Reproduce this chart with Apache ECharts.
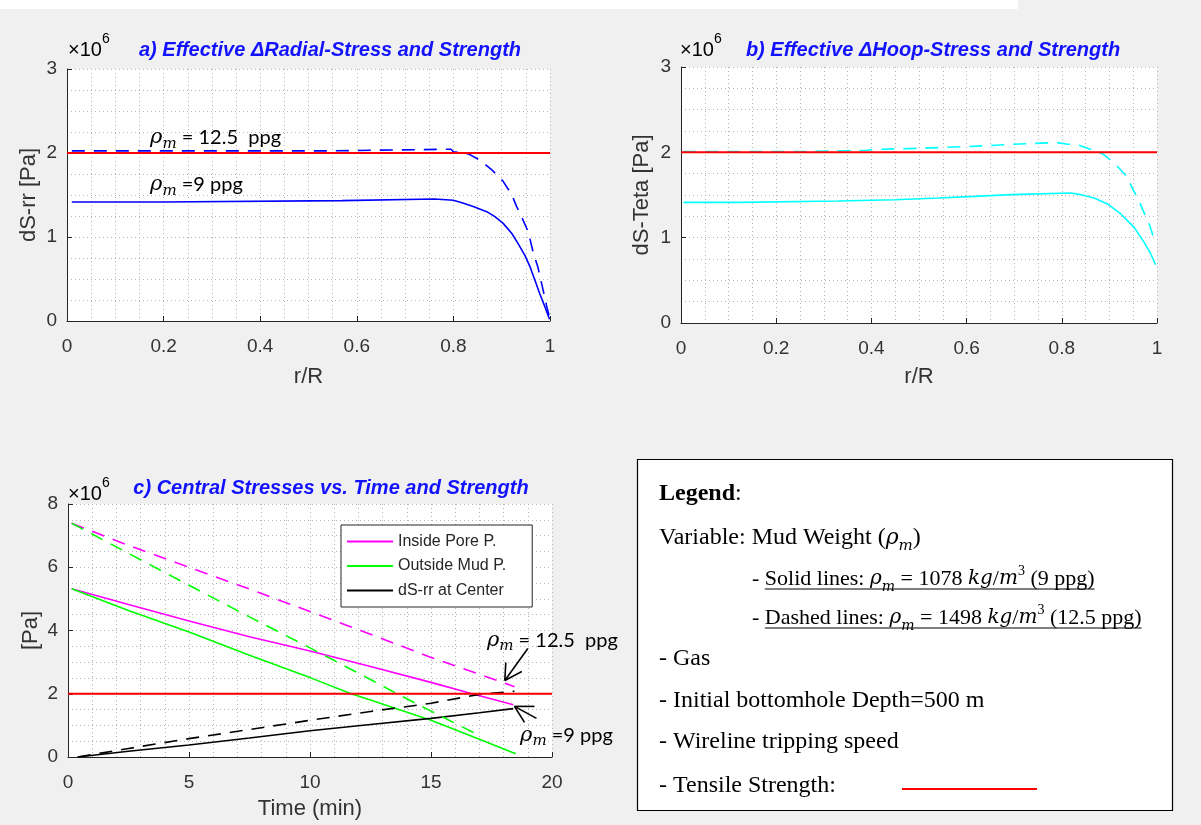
<!DOCTYPE html>
<html>
<head>
<meta charset="utf-8">
<script src="https://cdn.jsdelivr.net/npm/echarts@6/dist/echarts.min.js"></script>
<style>
  html, body { margin: 0; padding: 0; background: #f0f0f0; }
  #main { width: 1201px; height: 825px; }
</style>
</head>
<body>
<div id="main"></div>
<script>
// Stress values are in units of 1e6 Pa (axes carry the x10^6 factor).

// a) Effective radial stress vs r/R
const radial9R   = [0.01, 0.197, 0.197, 0.569, 0.569, 0.761, 0.761, 0.80, 0.821, 0.841, 0.869, 0.886, 0.903, 0.921, 0.934, 0.948, 0.959, 0.969, 0.979, 0.990, 0.999];
const radial9S   = [1.417, 1.417, 1.433, 1.433, 1.452, 1.452, 1.438, 1.438, 1.402, 1.362, 1.302, 1.242, 1.162, 1.042, 0.922, 0.781, 0.641, 0.481, 0.321, 0.160, 0.02];
const radial125R = [0.01, 0.534, 0.534, 0.795, 0.80, 0.831, 0.855, 0.879, 0.903, 0.921, 0.931, 0.941, 0.955, 0.965, 0.975, 0.986, 0.993, 1.0];
const radial125S = [2.025, 2.025, 2.045, 2.045, 2.015, 1.99, 1.915, 1.803, 1.663, 1.502, 1.362, 1.242, 1.061, 0.821, 0.641, 0.361, 0.18, 0.02];

// b) Effective hoop stress vs r/R
const hoop9R   = [0.005, 0.127, 0.127, 0.33, 0.33, 0.45, 0.45, 0.54, 0.54, 0.617, 0.617, 0.693, 0.693, 0.819, 0.840, 0.868, 0.896, 0.924, 0.952, 0.973, 0.987, 0.997];
const hoop9S   = [1.414, 1.414, 1.430, 1.430, 1.445, 1.445, 1.465, 1.465, 1.484, 1.484, 1.504, 1.504, 1.524, 1.524, 1.504, 1.465, 1.395, 1.278, 1.121, 0.945, 0.809, 0.683];
const hoop125R = [0.005, 0.26, 0.26, 0.39, 0.39, 0.41, 0.41, 0.50, 0.50, 0.56, 0.56, 0.65, 0.65, 0.71, 0.71, 0.79, 0.809, 0.834, 0.858, 0.886, 0.911, 0.935, 0.949, 0.96, 0.974, 0.985, 0.995];
const hoop125S = [2.008, 2.008, 2.024, 2.024, 2.035, 2.035, 2.047, 2.047, 2.059, 2.059, 2.079, 2.079, 2.098, 2.098, 2.114, 2.114, 2.098, 2.087, 2.04, 1.981, 1.871, 1.727, 1.571, 1.454, 1.278, 1.141, 0.96];

// c) Central stresses vs time (min)
const pore9T     = [0.15, 2.5, 5, 7.5, 10, 12.5, 15, 16.7, 18.4];
const pore9      = [5.32, 4.82, 4.30, 3.80, 3.35, 2.86, 2.36, 2.0, 1.65];
const mud9T      = [0.15, 2.5, 5, 7.5, 10, 11.7, 12.5, 15, 17, 18.5];
const mud9       = [5.32, 4.63, 3.95, 3.22, 2.51, 2.0, 1.80, 1.16, 0.56, 0.1];
const center9T   = [0.4, 2.5, 5, 7.5, 10, 12.5, 15, 17, 18.4];
const center9    = [0, 0.18, 0.38, 0.6, 0.83, 1.03, 1.22, 1.40, 1.53];
const pore125T   = [0.15, 2.5, 5, 7.5, 10, 12.5, 15, 17, 18.45];
const pore125    = [7.39, 6.69, 6.0, 5.31, 4.6, 3.88, 3.15, 2.62, 2.22];
const mud125T    = [0.15, 2.5, 5, 7.5, 10, 12.5, 13.6, 15, 17];
const mud125     = [7.39, 6.44, 5.43, 4.43, 3.45, 2.45, 2.0, 1.45, 0.68];
const center125T = [0.4, 2.5, 5, 7.5, 10, 12.5, 15, 17, 18.45];
const center125  = [0, 0.27, 0.58, 0.87, 1.16, 1.44, 1.70, 1.98, 2.08];

// Tensile strength (1e6 Pa)
const tensileStrength = 2;

const legendNames = ['Inside Pore P.', 'Outside Mud P.', 'dS-rr at Center'];

const chart = echarts.init(document.getElementById('main'), null, { renderer: 'canvas' });

const SANS = '"Liberation Sans", Arial, Helvetica, sans-serif';
const SERIF = '"Liberation Serif", "Times New Roman", serif';
const MATH = '"DejaVu Serif", serif';
const AXIS_C = '#262626';
const LABEL_C = '#333333';
const GRID_LINE = { type: [1, 3], color: '#b4b4b4', width: 1 };
const DASH = [13, 9];

const zip = (xs, ys) => xs.map((x, i) => [x, ys[i]]);
const fmt = v => String(+v.toFixed(2));

function xAxis(gridIndex, max, interval, minorN, name, nameGap) {
  return {
    gridIndex, type: 'value', min: 0, max, interval,
    name, nameLocation: 'middle', nameGap,
    nameTextStyle: { fontSize: 22, color: LABEL_C, fontFamily: SANS },
    axisLine: { show: true, onZero: false, lineStyle: { color: AXIS_C, width: 1 } },
    axisTick: { show: true, inside: true, length: 5, lineStyle: { color: AXIS_C } },
    axisLabel: { fontSize: 19, color: LABEL_C, fontFamily: SANS, margin: 16, formatter: fmt },
    splitLine: { show: true, lineStyle: GRID_LINE },
    minorTick: { show: true, splitNumber: minorN, length: 0 },
    minorSplitLine: { show: true, lineStyle: GRID_LINE }
  };
}
function yAxis(gridIndex, max, interval, name, nameGap, minorN) {
  return {
    gridIndex, type: 'value', min: 0, max, interval,
    name, nameLocation: 'middle', nameGap,
    nameTextStyle: { fontSize: 22, color: LABEL_C, fontFamily: SANS },
    axisLine: { show: true, onZero: false, lineStyle: { color: AXIS_C, width: 1 } },
    axisTick: { show: true, inside: true, length: 5, lineStyle: { color: AXIS_C } },
    axisLabel: { fontSize: 19, color: LABEL_C, fontFamily: SANS, margin: 10, formatter: fmt },
    splitLine: { show: true, lineStyle: GRID_LINE },
    minorTick: { show: true, splitNumber: minorN, length: 0 },
    minorSplitLine: { show: true, lineStyle: GRID_LINE }
  };
}
function line(name, idx, data, color, dashed, width) {
  return {
    name, type: 'line', xAxisIndex: idx, yAxisIndex: idx, data,
    showSymbol: false, symbol: 'none', smooth: false, silent: true,
    lineStyle: { color, width: width || 1.6, type: dashed ? DASH : 'solid' },
    itemStyle: { color },
    z: 3
  };
}
function strength(idx, xmax) {
  return {
    name: 'Tensile Strength', type: 'line', xAxisIndex: idx, yAxisIndex: idx,
    data: [[0, tensileStrength], [xmax, tensileStrength]],
    showSymbol: false, symbol: 'none', silent: true,
    lineStyle: { color: '#ff0000', width: 2 }, itemStyle: { color: '#ff0000' }, z: 4
  };
}

chart.setOption({
  animation: false,
  backgroundColor: '#f0f0f0',
  grid: [
    { left: 67, top: 69, width: 483, height: 252, backgroundColor: '#ffffff', show: true, borderWidth: 0 },
    { left: 681, top: 67, width: 476, height: 256, backgroundColor: '#ffffff', show: true, borderWidth: 0 },
    { left: 68, top: 504, width: 484, height: 253, backgroundColor: '#ffffff', show: true, borderWidth: 0 }
  ],
  xAxis: [
    xAxis(0, 1, 0.2, 4, 'r/R', 45),
    xAxis(1, 1, 0.2, 4, 'r/R', 43),
    xAxis(2, 20, 5, 5, 'Time (min)', 41)
  ],
  yAxis: [
    yAxis(0, 3, 1, 'dS-rr [Pa]', 27, 4),
    yAxis(1, 3, 1, 'dS-Teta [Pa]', 28, 4),
    yAxis(2, 8, 2, '[Pa]', 26, 4)
  ],
  legend: {
    data: legendNames,
    left: 341, top: 525, orient: 'vertical',
    icon: 'rect', itemWidth: 46, itemHeight: 2, itemGap: 7.5,
    padding: [8, 26, 8, 6],
    backgroundColor: '#ffffff', borderColor: AXIS_C, borderWidth: 1, borderRadius: 0,
    textStyle: { fontSize: 16, color: AXIS_C, fontFamily: SANS, lineHeight: 17 },
    selectedMode: false
  },
  series: [
    line('dS-rr 9 ppg', 0, zip(radial9R, radial9S), '#0000ff', false),
    line('dS-rr 12.5 ppg', 0, zip(radial125R, radial125S), '#0000ff', true),
    strength(0, 1),
    line('dS-Teta 9 ppg', 1, zip(hoop9R, hoop9S), '#00ffff', false),
    line('dS-Teta 12.5 ppg', 1, zip(hoop125R, hoop125S), '#00ffff', true),
    strength(1, 1),
    line(legendNames[0], 2, zip(pore9T, pore9), '#ff00ff', false),
    line(legendNames[1], 2, zip(mud9T, mud9), '#00ff00', false),
    line(legendNames[2], 2, zip(center9T, center9), '#000000', false),
    line(legendNames[0], 2, zip(pore125T, pore125), '#ff00ff', true),
    line(legendNames[1], 2, zip(mud125T, mud125), '#00ff00', true),
    line(legendNames[2], 2, zip(center125T, center125), '#000000', true),
    strength(2, 20)
  ]
});

// ---------- annotations, titles and the notes box ----------
const measureCtx = document.createElement('canvas').getContext('2d');
function fontString(s) {
  return (s.fontStyle === 'italic' ? 'italic ' : '') + (s.fontWeight === 'bold' ? 'bold ' : '') + s.fontSize + 'px ' + s.fontFamily;
}
function tokenWidth(style, str) {
  measureCtx.font = fontString(style);
  return measureCtx.measureText(str).width;
}

// rich text styles for inline math
function richSet(base, mathSize, color) {
  const lh = Math.round(base * 1.35);
  return {
    t:   { fontFamily: SERIF, fontSize: base, color, lineHeight: lh, verticalAlign: 'middle' },
    tb:  { fontFamily: SERIF, fontSize: base, fontWeight: 'bold', color, lineHeight: lh, verticalAlign: 'middle' },
    s:   { fontFamily: '"Lato", "Open Sans", sans-serif', fontSize: base, color, lineHeight: lh, verticalAlign: 'middle' },
    mi:  { fontFamily: MATH, fontStyle: 'italic', fontSize: mathSize, color, lineHeight: lh, verticalAlign: 'middle' },
    sub: { fontFamily: MATH, fontStyle: 'italic', fontSize: Math.round(mathSize * 0.7), color, lineHeight: lh, verticalAlign: 'bottom' },
    sup: { fontFamily: SERIF, fontSize: Math.round(base * 0.62), color, lineHeight: lh, verticalAlign: 'top' }
  };
}
function richText(x, y, tokens, rich, underlineFrom) {
  const text = tokens.map(([k, s]) => '{' + k + '|' + s + '}').join('');
  const items = [{
    type: 'text', x, y, silent: true,
    style: { text, rich, align: 'left', verticalAlign: 'middle' }
  }];
  if (underlineFrom !== undefined) {
    let start = 0, total = 0;
    tokens.forEach(([k, s], i) => {
      const w = tokenWidth(rich[k], s);
      if (i < underlineFrom) start += w;
      total += w;
    });
    items.push({
      type: 'line', silent: true,
      shape: { x1: x + start, y1: y + 10, x2: x + total, y2: y + 10 },
      style: { stroke: '#000', lineWidth: 1 }
    });
  }
  return items;
}

function titleText(x, y, text) {
  return {
    type: 'text', x, y, silent: true,
    style: {
      text, align: 'center', verticalAlign: 'middle',
      fontFamily: SANS, fontSize: 20, fontWeight: 'bold', fontStyle: 'italic', fill: '#1212ff'
    }
  };
}
function factorText(x, y) {
  return {
    type: 'text', x, y, silent: true,
    style: {
      text: '{a|×10}{b|6}', align: 'left', verticalAlign: 'middle',
      rich: {
        a: { fontFamily: SANS, fontSize: 20, color: '#555555', lineHeight: 28, verticalAlign: 'bottom' },
        b: { fontFamily: SANS, fontSize: 14, color: '#555555', lineHeight: 28, verticalAlign: 'top' }
      }
    }
  };
}

const plotRich = richSet(20, 21, '#000');
const rhoLabel = rest => [['mi', 'ρ'], ['sub', 'm'], ['s', rest]];

function px(grid, pt) { return chart.convertToPixel({ gridIndex: grid }, pt); }

function arrow(tip, shaft, barbA, barbB) {
  const mk = (d) => ({
    type: 'polyline', silent: true,
    shape: { points: [tip, [tip[0] + d[0], tip[1] + d[1]]] },
    style: { stroke: '#000', lineWidth: 1.6, fill: null }
  });
  return [mk(shaft), mk(barbA), mk(barbB)];
}

const g = [];
// white strip along the top edge of the figure window
g.push({ type: 'rect', silent: true, shape: { x: 0, y: 0, width: 1018, height: 9 }, style: { fill: '#ffffff' } });

g.push(titleText(330, 50, 'a) Effective \u0394Radial-Stress and Strength'));
g.push(titleText(933, 50, 'b) Effective \u0394Hoop-Stress and Strength'));
g.push(titleText(331, 488, 'c) Central Stresses vs. Time and Strength'));
g.push(factorText(68, 46));
g.push(factorText(680, 46));
g.push(factorText(68, 490));

// curve labels, panel a
let p = px(0, [0.172, 2.18]);
g.push(...richText(p[0], p[1], rhoLabel(' = 12.5  ppg'), plotRich));
p = px(0, [0.172, 1.62]);
g.push(...richText(p[0], p[1], rhoLabel(' =9 ppg'), plotRich));

// curve labels and arrows, panel c
p = px(2, [17.31, 3.69]);
g.push(...richText(p[0], p[1], rhoLabel(' = 12.5  ppg'), plotRich));
p = px(2, [18.68, 0.69]);
g.push(...richText(p[0], p[1], rhoLabel(' =9 ppg'), plotRich));
const tip1 = px(2, [18.05, 2.42]);
g.push(...arrow(tip1, [23, -32], [1, -18], [17, -9]));
const tip2 = px(2, [18.45, 1.6]);
g.push(...arrow(tip2, [22, 12], [20, 0], [10, 16]));

// notes box
g.push({
  type: 'rect', silent: true,
  shape: { x: 637.5, y: 459.5, width: 535, height: 351 },
  style: { fill: '#ffffff', stroke: '#000000', lineWidth: 1.2 }
});
const boxRich = richSet(24, 22, '#000');
const subRich = richSet(22, 20, '#000');
g.push(...richText(659, 494, [['tb', 'Legend'], ['t', ':']], boxRich));
g.push(...richText(659, 538, [['t', 'Variable: Mud Weight ('], ['mi', 'ρ'], ['sub', 'm'], ['t', ')']], boxRich));
g.push(...richText(752, 579, [
  ['t', '- '], ['t', 'Solid lines: '], ['mi', 'ρ'], ['sub', 'm'], ['t', ' = 1078 '],
  ['mi', 'kg'], ['t', '/'], ['mi', 'm'], ['sup', '3'], ['t', ' (9 ppg)']
], subRich, 1));
g.push(...richText(752, 618, [
  ['t', '- '], ['t', 'Dashed lines: '], ['mi', 'ρ'], ['sub', 'm'], ['t', ' = 1498 '],
  ['mi', 'kg'], ['t', '/'], ['mi', 'm'], ['sup', '3'], ['t', ' (12.5 ppg)']
], subRich, 1));
g.push(...richText(659, 659, [['t', '- Gas']], boxRich));
g.push(...richText(659, 701, [['t', '- Initial bottomhole Depth=500 m']], boxRich));
g.push(...richText(659, 742, [['t', '- Wireline tripping speed']], boxRich));
g.push(...richText(659, 786, [['t', '- Tensile Strength:']], boxRich));
g.push({
  type: 'line', silent: true,
  shape: { x1: 902, y1: 789, x2: 1037, y2: 789 },
  style: { stroke: '#ff0000', lineWidth: 2 }
});

chart.setOption({ graphic: g });
</script>
</body>
</html>
